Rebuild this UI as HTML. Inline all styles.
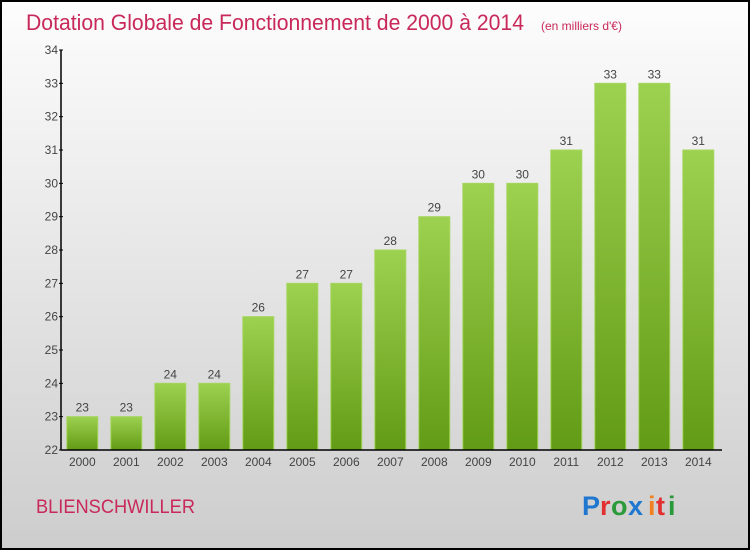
<!DOCTYPE html>
<html><head><meta charset="utf-8"><style>
body{margin:0}
svg text{font-family:"Liberation Sans",sans-serif}
</style></head><body>
<svg width="750" height="550" xmlns="http://www.w3.org/2000/svg">
<defs>
<linearGradient id="bg" x1="0" y1="0" x2="0" y2="1"><stop offset="0" stop-color="#fdfdfd"/><stop offset="1" stop-color="#cdcdcd"/></linearGradient>
<linearGradient id="bar" x1="0" y1="0" x2="0" y2="1"><stop offset="0" stop-color="#9dd150"/><stop offset="1" stop-color="#629b15"/></linearGradient>
</defs>
<rect x="1" y="1" width="748" height="548" fill="url(#bg)" stroke="#000" stroke-width="2"/>
<text x="26" y="30" font-size="22" fill="#c8285a" textLength="498" lengthAdjust="spacingAndGlyphs">Dotation Globale de Fonctionnement de 2000 à 2014</text>
<text x="541" y="30" font-size="12" fill="#c8285a">(en milliers d'€)</text>
<g id="yaxis"></g><g id="bars"></g><g id="xaxis"></g>
<text x="36" y="513" font-size="19" fill="#c8285a" textLength="159" lengthAdjust="spacingAndGlyphs">BLIENSCHWILLER</text>
<g font-size="27" font-weight="bold">
<text x="582" y="515" fill="#1f77d0">P</text><text x="600" y="515" fill="#e23030">r</text><text x="611" y="515" fill="#2a9a3a">o</text><text x="628" y="515" fill="#1f77d0">x</text><text x="648" y="515" fill="#f08020">i</text><text x="656" y="515" fill="#e23030">t</text><text x="668" y="515" fill="#2a9a3a">i</text>
</g>
</svg>
<script>
const categories=["2000","2001","2002","2003","2004","2005","2006","2007","2008","2009","2010","2011","2012","2013","2014"];
const values=[23,23,24,24,26,27,27,28,29,30,30,31,33,33,31];
const yTicks=[22,23,24,25,26,27,28,29,30,31,32,33,34];
const NS="http://www.w3.org/2000/svg";
const yMin=22,yMax=34,plotTop=50,plotBot=450,plotLeft=61,plotRight=722;
const yScale=v=>plotBot-(v-yMin)/(yMax-yMin)*(plotBot-plotTop);
const band=44,x0=82.3;
const xScale=i=>x0+i*band;
function mk(t,a,p){const e=document.createElementNS(NS,t);for(const k in a)e.setAttribute(k,a[k]);p.appendChild(e);return e;}
const ya=document.getElementById('yaxis'),ba=document.getElementById('bars'),xa=document.getElementById('xaxis');
const yl=mk('line',{x1:plotLeft,y1:plotTop,x2:plotLeft,y2:plotBot,stroke:'#000','stroke-width':1.5},ya);


yTicks.forEach(v=>{
 const tk=mk('line',{x1:plotLeft-2,y1:yScale(v),x2:plotLeft+2,y2:yScale(v),stroke:'#000'},ya);
 
 
 const t=mk('text',{x:plotLeft-3,y:yScale(v)+4,'font-size':12,fill:'#444','text-anchor':'end'},ya);
 t.textContent=v;
 
 
});
values.forEach((v,i)=>{
 const r=mk('rect',{x:xScale(i)-15.5,y:yScale(v),width:31,height:plotBot-yScale(v),fill:'url(#bar)',stroke:'#a6d65e','stroke-width':1},ba);
 
 
 const t=mk('text',{x:xScale(i),y:yScale(v)-5,'font-size':12,fill:'#444','text-anchor':'middle'},ba);
 t.textContent=v;
 
 
 const c=mk('text',{x:xScale(i),y:466,'font-size':12,fill:'#444','text-anchor':'middle'},xa);
 c.textContent=categories[i];
 
 
});
const xl=mk('line',{x1:plotLeft,y1:plotBot,x2:plotRight,y2:plotBot,stroke:'#000','stroke-width':1.5},xa);


</script>
</body></html>
